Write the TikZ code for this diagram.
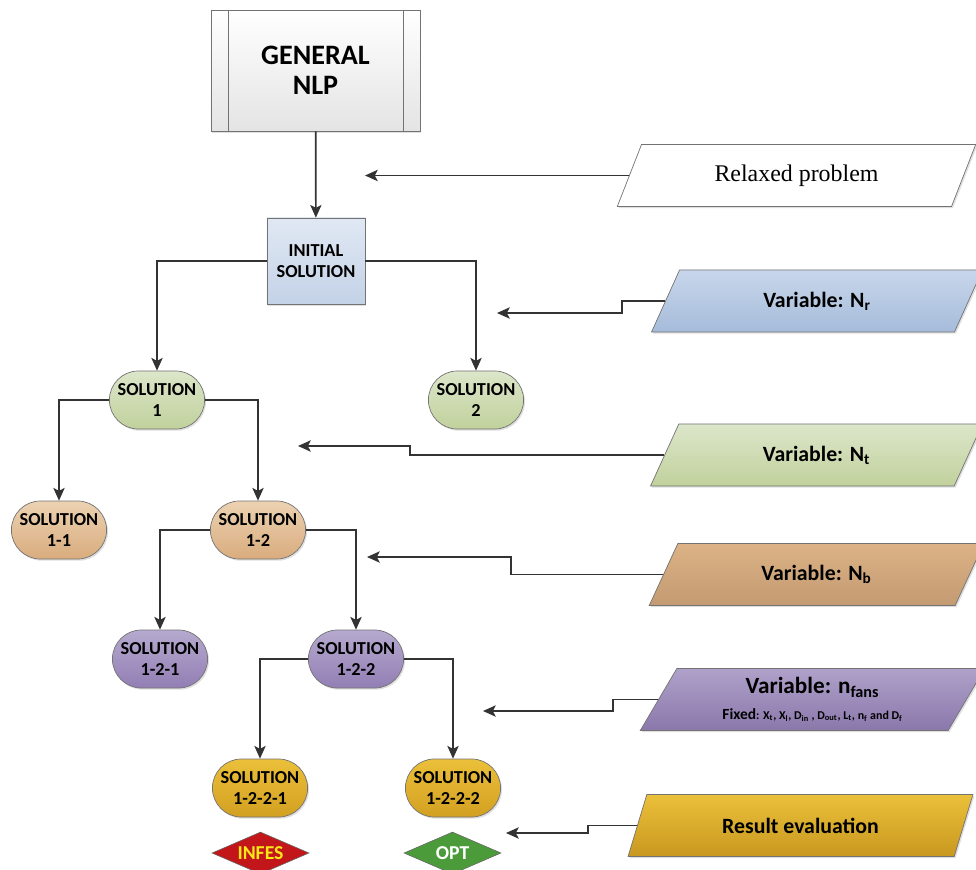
\documentclass[tikz,border=0pt]{standalone}
\usepackage{fontspec}
\setmainfont{Carlito}
\newfontfamily\serifrm{Liberation Serif}
\usetikzlibrary{arrows.meta, shapes.geometric, shapes.misc, shadows, positioning}

\definecolor{nlpbot}{HTML}{E4E4E4}
\definecolor{initop}{HTML}{E0E8F3}
\definecolor{inibot}{HTML}{C4D2E7}
\definecolor{bluetop}{HTML}{C8D6EA}
\definecolor{bluebot}{HTML}{A6BCDB}
\definecolor{greentop}{HTML}{DCE6CA}
\definecolor{greenbot}{HTML}{C1D19C}
\definecolor{orangetop}{HTML}{ECD2B2}
\definecolor{orangebot}{HTML}{D9AC7E}
\definecolor{purpletop}{HTML}{B6AACF}
\definecolor{purplebot}{HTML}{927EB4}
\definecolor{goldtop}{HTML}{EBC03A}
\definecolor{goldbot}{HTML}{D3A021}
\definecolor{infesred}{HTML}{C2161B}
\definecolor{infestext}{HTML}{F8E81A}
\definecolor{optgreen}{HTML}{4B9B3B}

\begin{document}
\begin{tikzpicture}[x=0.025cm, y=-0.025cm,
    box/.style={draw=gray!90!black, line width=0.5pt, align=center,
        font=\bfseries\fontsize{13}{14.5}\selectfont,
        drop shadow={shadow xshift=1pt, shadow yshift=-1.2pt, opacity=0.25}},
    sol/.style={box, rounded rectangle, minimum width=2.45cm, minimum height=1.45cm, inner sep=1pt},
    vari/.style={box, trapezium, trapezium left angle=62, trapezium right angle=118,
        trapezium stretches=true, minimum height=1.55cm, inner sep=1pt,
        font=\bfseries\fontsize{15.5}{17}\selectfont},
    flag/.style={diamond, aspect=2.3, minimum width=2.425cm, minimum height=1.05cm, inner sep=0pt,
        draw=gray!80!black, line width=0.4pt, font=\bfseries\fontsize{14}{16}\selectfont},
    link/.style={draw=black!80, line width=1.2pt, -{Stealth[length=9pt, width=8pt, inset=2pt]}}]
    \useasboundingbox (0,0) rectangle (976,870);

    % Tree
    \node[box, rectangle, minimum width=5.225cm, minimum height=3.025cm, top color=white, bottom color=nlpbot,
        font=\bfseries\fontsize{20}{21.5}\selectfont,
        path picture={\draw[gray!90!black, line width=0.5pt]
            ([xshift=0.425cm]path picture bounding box.north west) -- ([xshift=0.425cm]path picture bounding box.south west)
            ([xshift=-0.425cm]path picture bounding box.north east) -- ([xshift=-0.425cm]path picture bounding box.south east);}]
        (nlp) at (315.5,70.5) {GENERAL\\NLP};
    \node[box, rectangle, minimum width=2.45cm, minimum height=2.15cm, top color=initop, bottom color=inibot]
        (init) at (316,261) {INITIAL\\SOLUTION};

    \node[sol, top color=greentop, bottom color=greenbot] (s1) at (157,400) {SOLUTION\\1};
    \node[sol, top color=greentop, bottom color=greenbot] (s2) at (476,400) {SOLUTION\\2};
    \node[sol, top color=orangetop, bottom color=orangebot] (s11) at (59,530) {SOLUTION\\1-1};
    \node[sol, top color=orangetop, bottom color=orangebot] (s12) at (258,530) {SOLUTION\\1-2};
    \node[sol, top color=purpletop, bottom color=purplebot] (s121) at (160,659) {SOLUTION\\1-2-1};
    \node[sol, top color=purpletop, bottom color=purplebot] (s122) at (356,659) {SOLUTION\\1-2-2};
    \node[sol, top color=goldtop, bottom color=goldbot] (s1221) at (260,788) {SOLUTION\\1-2-2-1};
    \node[sol, top color=goldtop, bottom color=goldbot] (s1222) at (453,788) {SOLUTION\\1-2-2-2};

    \node[flag, fill=infesred, text=infestext] (infes) at (260.5,853) {INFES};
    \node[flag, fill=optgreen, text=white] (opt) at (452.5,853) {OPT};

    \draw[link] (nlp) -- (init);
    \draw[link] (init.west) -| (s1.north);
    \draw[link] (init.east) -| (s2.north);
    \draw[link] (s1.west) -| (s11.north);
    \draw[link] (s1.east) -| (s12.north);
    \draw[link] (s12.west) -| (s121.north);
    \draw[link] (s12.east) -| (s122.north);
    \draw[link] (s122.west) -| (s1221.north);
    \draw[link] (s122.east) -| (s1222.north);

    % Levels
    \node[vari, fill=white, minimum width=8.975cm, font=\serifrm\fontsize{17}{19}\selectfont]
        (relax) at (796.5,175.5) {Relaxed problem};
    \node[vari, top color=bluetop, bottom color=bluebot, minimum width=8.35cm]
        (nr) at (817,301) {Variable: N\textsubscript{r}};
    \node[vari, top color=greentop, bottom color=greenbot, minimum width=8.375cm]
        (nt) at (816.5,455) {Variable: N\textsubscript{t}};
    \node[vari, top color=orangebot!85!orangetop, bottom color=orangebot!90!black, minimum width=8.375cm]
        (nb) at (816.5,574.5) {Variable: N\textsubscript{b}};
    \node[vari, top color=purpletop!80!purplebot, bottom color=purplebot!95!black, minimum width=8.625cm]
        (nf) at (812.5,699.5) {{\fontsize{16.5}{18}\selectfont Variable: n\textsubscript{fans}}\\[1pt]
        {\fontsize{11}{12}\selectfont Fixed\fontsize{8.5}{9}\selectfont: X\textsubscript{t}, X\textsubscript{l}, D\textsubscript{in} , D\textsubscript{out}, L\textsubscript{t}, n\textsubscript{f} and D\textsubscript{f}}};
    \node[vari, top color=goldtop, bottom color=goldbot!95!black, minimum width=8.625cm]
        (res) at (800.5,825.5) {Result evaluation};

    \coordinate (t0) at (365,175.5);
    \coordinate (t1) at (497,313);
    \coordinate (t2) at (298,446);
    \coordinate (t3) at (367,557);
    \coordinate (t4) at (483,711);
    \coordinate (t5) at (506,833);

    \draw[link] (relax.left side) -- (t0);
    \draw[link] (nr.left side) -| (622,313) -- (t1);
    \draw[link] (nt.left side) -| (410,446) -- (t2);
    \draw[link] (nb.left side) -| (511,557) -- (t3);
    \draw[link] (nf.left side) -| (613,711) -- (t4);
    \draw[link] (res.left side) -| (588,833) -- (t5);
\end{tikzpicture}
\end{document}
